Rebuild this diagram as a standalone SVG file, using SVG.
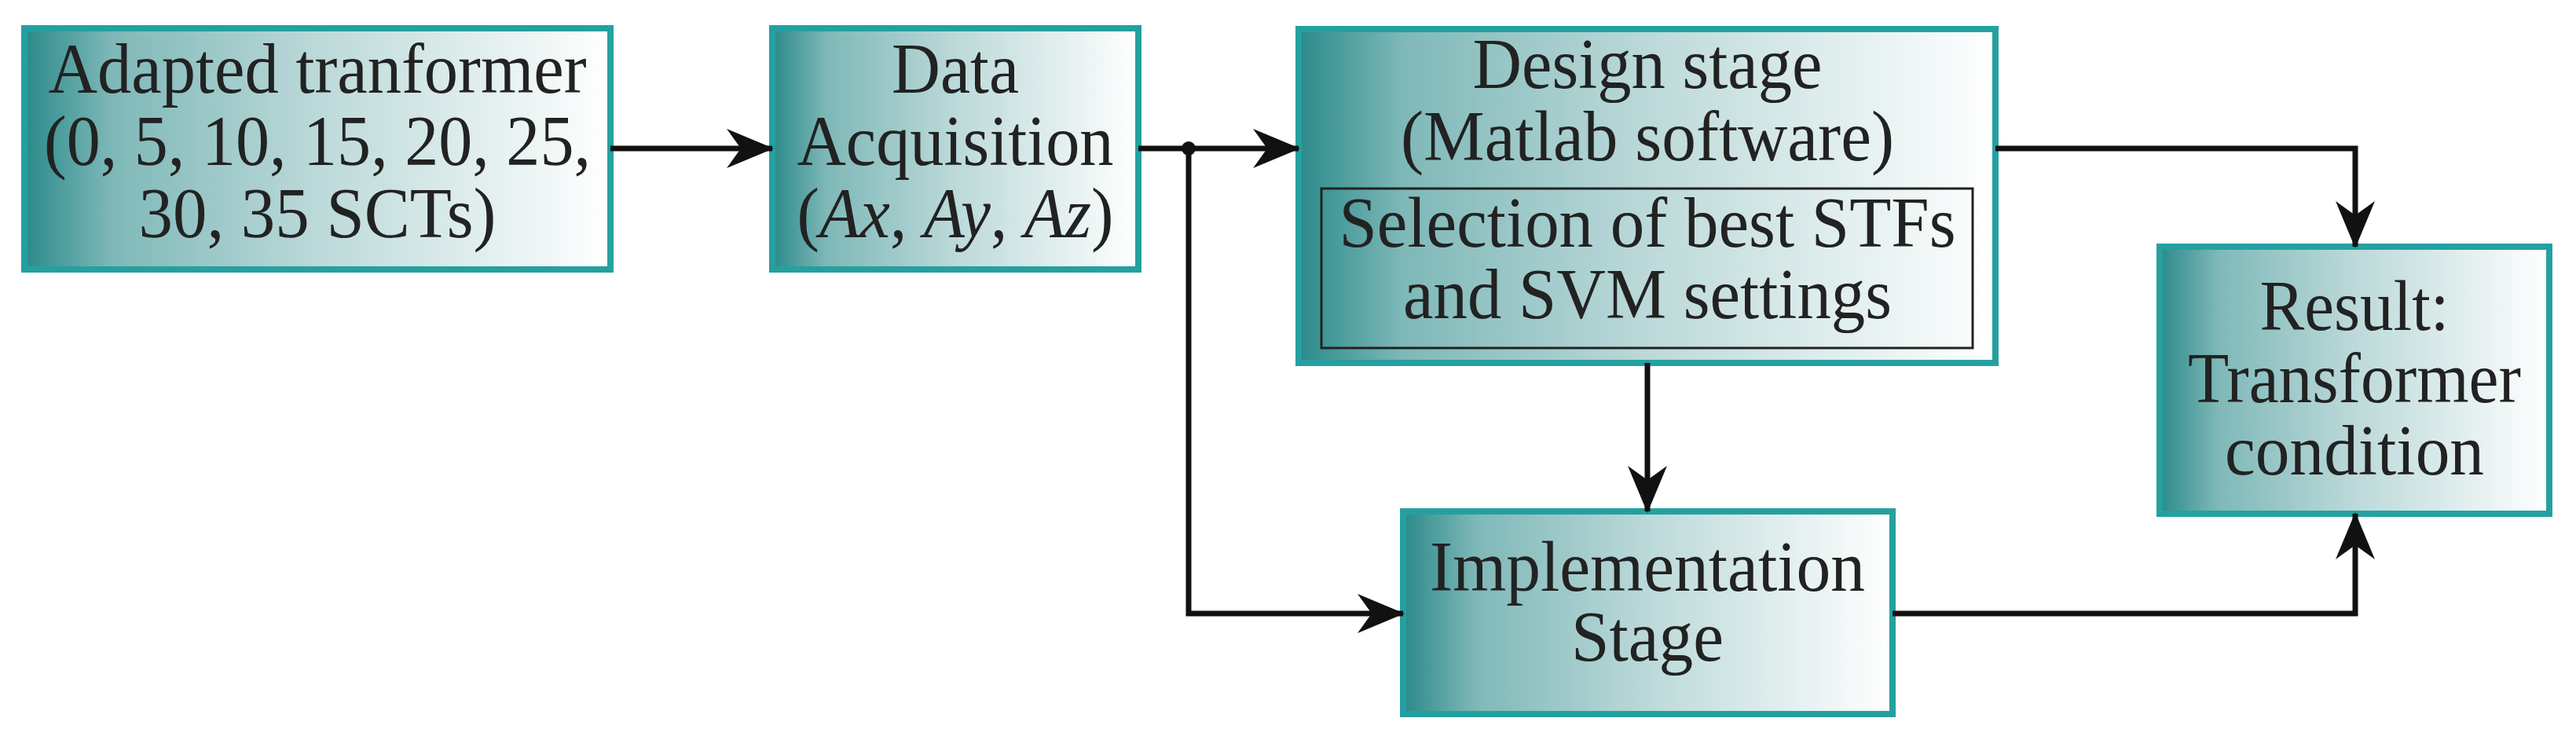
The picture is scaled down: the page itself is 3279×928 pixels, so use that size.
<svg xmlns="http://www.w3.org/2000/svg" width="3279" height="928" viewBox="0 0 3279 928">
<defs>
<linearGradient id="g" x1="0" y1="0" x2="1" y2="0">
<stop offset="0" stop-color="#2b8a8a"/><stop offset="0.15" stop-color="#7fb8b8"/><stop offset="0.5" stop-color="#bcd9d9"/><stop offset="1" stop-color="#ffffff"/>
</linearGradient>
<marker id="ah" viewBox="0 0 60 50" refX="58" refY="25" markerWidth="60" markerHeight="50" markerUnits="userSpaceOnUse" orient="auto">
<path d="M0,0 L60,25 L0,50 L18,25 z" fill="#111"/>
</marker>
<style>
.box{fill:url(#g);stroke:#25a0a0;stroke-width:8}
.inner{fill:none;stroke:#222;stroke-width:3}
.c{fill:none;stroke:#111;stroke-width:7}
text{font-family:'Liberation Serif','Times New Roman','DejaVu Serif',serif;font-size:90px;fill:#222;text-anchor:middle}
</style>
</defs>
<g id="n1"><rect class="box" x="31" y="36" width="746" height="307"/>
<text x="404" y="118" textLength="685" lengthAdjust="spacingAndGlyphs">Adapted tranformer</text><text x="404" y="210" textLength="696" lengthAdjust="spacingAndGlyphs">(0, 5, 10, 15, 20, 25,</text><text x="404" y="302" textLength="455" lengthAdjust="spacingAndGlyphs">30, 35 SCTs)</text></g>
<g id="n2"><rect class="box" x="983" y="36" width="466" height="307"/>
<text x="1216" y="118" textLength="162" lengthAdjust="spacingAndGlyphs">Data</text><text x="1216" y="210" textLength="403" lengthAdjust="spacingAndGlyphs">Acquisition</text><text x="1216" y="302" textLength="403" lengthAdjust="spacingAndGlyphs">(<tspan font-style="italic">Ax</tspan>, <tspan font-style="italic">Ay</tspan>, <tspan font-style="italic">Az</tspan>)</text></g>
<g id="n3"><rect class="box" x="1653" y="37" width="887" height="425"/>
<text x="2097" y="112" textLength="445" lengthAdjust="spacingAndGlyphs">Design stage</text><text x="2097" y="204" textLength="628" lengthAdjust="spacingAndGlyphs">(Matlab software)</text>
<rect class="inner" x="1682" y="240" width="829" height="203"/>
<text x="2097" y="314" textLength="785" lengthAdjust="spacingAndGlyphs">Selection of best STFs</text><text x="2097" y="405" textLength="622" lengthAdjust="spacingAndGlyphs">and SVM settings</text></g>
<g id="n4"><rect class="box" x="2749" y="314" width="496" height="340"/>
<text x="2997" y="420" textLength="241" lengthAdjust="spacingAndGlyphs">Result:</text><text x="2997" y="512" textLength="424" lengthAdjust="spacingAndGlyphs">Transformer</text><text x="2997" y="604" textLength="330" lengthAdjust="spacingAndGlyphs">condition</text></g>
<g id="n5"><rect class="box" x="1786" y="651" width="623" height="258"/>
<text x="2097" y="752" textLength="554" lengthAdjust="spacingAndGlyphs">Implementation</text><text x="2097" y="841" textLength="194" lengthAdjust="spacingAndGlyphs">Stage</text></g>
<g id="connectors">
<path class="c" d="M777,189 H983" marker-end="url(#ah)"/>
<path class="c" d="M1449,189 H1653" marker-end="url(#ah)"/>
<circle cx="1513" cy="189" r="9" fill="#111"/>
<path class="c" d="M1513,189 V781 H1786" marker-end="url(#ah)"/>
<path class="c" d="M2540,189 H2998 V314" marker-end="url(#ah)"/>
<path class="c" d="M2097,462 V651" marker-end="url(#ah)"/>
<path class="c" d="M2409,781 H2998 V654" marker-end="url(#ah)"/>
</g>
</svg>
